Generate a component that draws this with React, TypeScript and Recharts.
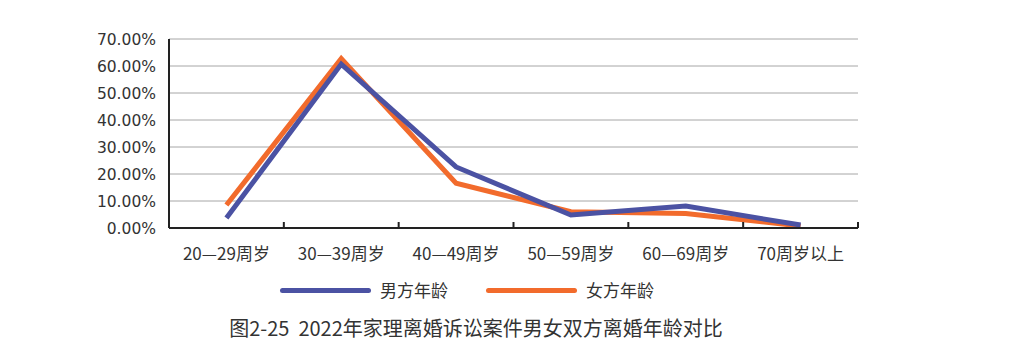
import React from 'react';
import { LineChart, Line, XAxis, YAxis, CartesianGrid, Legend } from 'recharts';

const categories = ['20—29周岁', '30—39周岁', '40—49周岁', '50—59周岁', '60—69周岁', '70周岁以上'];
const maleAges = [3.7, 60.7, 22.6, 4.8, 8.1, 1.1];
const femaleAges = [8.5, 62.7, 16.6, 6.0, 5.4, 0.7];
const yTicks = [0, 10, 20, 30, 40, 50, 60, 70];

const MALE = '#4B52A3';
const FEMALE = '#F26B2C';
const FONT = '"Noto Sans CJK SC", "Noto Sans", sans-serif';

const data = categories.map((name, i) => ({
  name,
  male: maleAges[i],
  female: femaleAges[i],
}));

const CHART_W = 1009;
const CHART_H = 362;
const PLOT_LEFT = 169;
const PLOT_RIGHT = 858;
const BAND = (PLOT_RIGHT - PLOT_LEFT) / categories.length;

// x tick: label below, small boundary tick pointing up into the plot
const CategoryTick = (props: any) => {
  const { x, y, payload, index } = props;
  return (
    <g>
      {index === 0 && (
        <line x1={x - BAND / 2} x2={x - BAND / 2} y1={y - 6} y2={y} stroke="#222" strokeWidth={2} />
      )}
      <line x1={x + BAND / 2} x2={x + BAND / 2} y1={y - 6} y2={y} stroke="#222" strokeWidth={2} />
      <text x={x} y={y + 32} textAnchor="middle" fill="#333" fontSize={17} fontFamily={FONT}>
        {payload.value}
      </text>
    </g>
  );
};

const LegendContent = () => (
  <div style={{ display: 'flex', alignItems: 'center', fontFamily: FONT, fontSize: 17, color: '#333', lineHeight: '22px' }}>
    <span style={{ width: 91, height: 5, borderRadius: 3, background: MALE, display: 'inline-block' }} />
    <span style={{ marginLeft: 9, width: 106 }}>男方年龄</span>
    <span style={{ width: 91, height: 5, borderRadius: 3, background: FEMALE, display: 'inline-block' }} />
    <span style={{ marginLeft: 9 }}>女方年龄</span>
  </div>
);

export default function App() {
  return (
    <div style={{ position: 'absolute', left: 0, top: 0, width: CHART_W, height: CHART_H, background: '#fff' }}>
      <LineChart
        width={CHART_W}
        height={CHART_H}
        data={data}
        margin={{ top: 39, right: CHART_W - PLOT_RIGHT, left: PLOT_LEFT - 60, bottom: 104 }}
      >
        <CartesianGrid vertical={false} stroke="#A6A6A6" strokeWidth={1} />
        <XAxis
          dataKey="name"
          scale="band"
          height={30}
          axisLine={{ stroke: '#222', strokeWidth: 2 }}
          tickLine={false}
          tickSize={0}
          tickMargin={0}
          interval={0}
          tick={<CategoryTick />}
        />
        <YAxis
          width={60}
          domain={[0, 70]}
          ticks={yTicks}
          interval={0}
          axisLine={{ stroke: '#222', strokeWidth: 2 }}
          tickLine={false}
          tickSize={0}
          tickMargin={13}
          tickFormatter={(v: number) => `${v.toFixed(2)}%`}
          tick={{ fill: '#333', fontSize: 15.5, fontFamily: '"DejaVu Sans", sans-serif' }}
        />
        <Legend
          layout="horizontal"
          verticalAlign="middle"
          align="center"
          content={<LegendContent />}
          wrapperStyle={{ position: 'absolute', left: 280, top: 279, width: 'auto' }}
        />
        <Line
          type="linear"
          dataKey="female"
          stroke={FEMALE}
          strokeWidth={5}
          dot={false}
          isAnimationActive={false}
        />
        <Line
          type="linear"
          dataKey="male"
          stroke={MALE}
          strokeWidth={5}
          dot={false}
          isAnimationActive={false}
        />
      </LineChart>
      <div
        style={{
          position: 'absolute',
          left: 0,
          width: 952,
          top: 313,
          textAlign: 'center',
          fontFamily: FONT,
          fontSize: 20,
          color: '#333',
          whiteSpace: 'pre',
        }}
      >
        {'图2-25  2022年家理离婚诉讼案件男女双方离婚年龄对比'}
      </div>
    </div>
  );
}
